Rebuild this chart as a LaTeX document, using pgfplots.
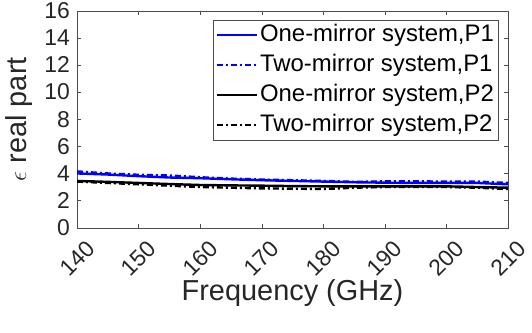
\documentclass[border=0pt]{standalone}
\usepackage{pgfplots}
\pgfplotsset{compat=1.18}
\usepackage{fontspec}
\setmainfont{Liberation Sans}
\definecolor{mblue}{RGB}{0,0,255}
\definecolor{axgray}{RGB}{38,38,38}

\begin{document}
\begin{tikzpicture}
\begin{axis}[
  name=ax,
  scale only axis,
  width=431bp, height=217bp,
  xmin=140, xmax=210, ymin=0, ymax=16,
  xtick={140,150,...,210},
  ytick={0,2,...,16},
  tick label style={font=\fontsize{23}{23}\selectfont, text=axgray},
  /pgf/number format/assume math mode=true,
  xticklabel style={xshift=0bp, yshift=-31bp, rotate=45, anchor=center, inner sep=0pt},
  yticklabel style={inner sep=0pt, xshift=-7bp},
  xlabel={Frequency (GHz)},
  ylabel={$\epsilon$ real part},
  label style={font=\fontsize{29}{29}\selectfont, text=axgray},
  xlabel style={yshift=2bp},
  ylabel style={yshift=11bp, inner sep=1bp},
  axis line style={gray!60!black},
  tick style={gray!60!black},
  tick align=inside,
  major tick length=4bp,
  legend style={at={(0.977,0.957)}, anchor=north east, draw=gray!60!black,
    font=\fontsize{24}{24}\selectfont, inner sep=2bp, row sep=4bp,
    nodes={inner sep=2bp, text height=17bp, text depth=5bp}},
  legend cell align=left,
  legend image code/.code={\draw[#1, line width=2.4bp] (0bp,0bp) -- (40bp,0bp);},
]
\addplot[mblue, line width=2.4bp] coordinates {
 (140,4.0) (145,3.92) (150,3.8) (155,3.7) (160,3.65) (165,3.57) (170,3.5) (175,3.45) (180,3.4) (185,3.35) (190,3.32) (195,3.3) (200,3.3) (205,3.3) (210,3.2)};
\addlegendentry{One-mirror system,P1}
\addplot[mblue, line width=2.4bp, dash pattern=on 6bp off 3bp on 2bp off 3bp] coordinates {
 (140,4.15) (145,4.0) (150,3.9) (155,3.85) (160,3.72) (165,3.62) (170,3.55) (175,3.5) (180,3.45) (185,3.38) (190,3.42) (195,3.42) (200,3.4) (205,3.4) (210,3.3)};
\addlegendentry{Two-mirror system,P1}
\addplot[black, line width=2.4bp] coordinates {
 (140,3.45) (145,3.38) (150,3.3) (155,3.22) (160,3.15) (165,3.12) (170,3.1) (175,3.07) (180,3.05) (185,3.05) (190,3.05) (195,3.05) (200,3.05) (205,3.0) (210,2.95)};
\addlegendentry{One-mirror system,P2}
\addplot[black, line width=2.4bp, dash pattern=on 6bp off 3bp on 2bp off 3bp] coordinates {
 (140,3.4) (145,3.3) (150,3.2) (155,3.1) (160,3.0) (165,2.95) (170,2.9) (175,2.88) (180,2.85) (185,2.95) (190,3.0) (195,3.0) (200,3.0) (205,2.95) (210,2.85)};
\addlegendentry{Two-mirror system,P2}
\end{axis}
\pgfresetboundingbox
\path ([shift={(-77bp,-105bp)}]ax.south west) rectangle ([shift={(24bp,10.7bp)}]ax.north east);
\end{tikzpicture}
\end{document}
